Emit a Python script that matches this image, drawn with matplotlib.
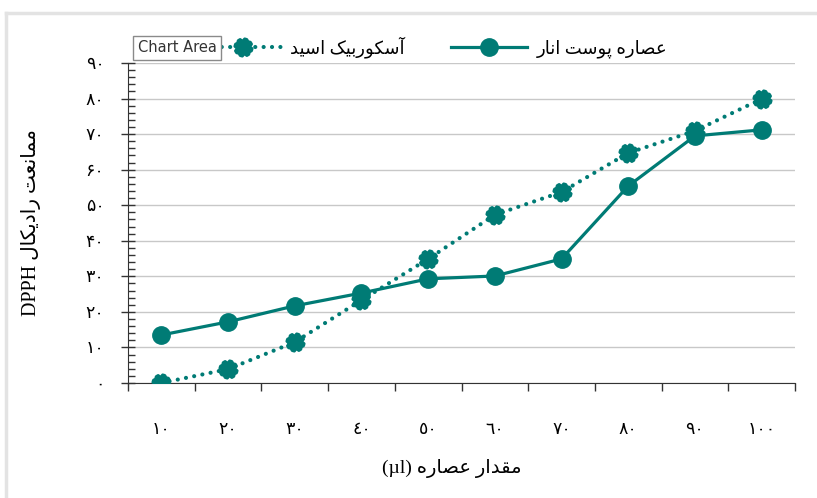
import numpy as np
import matplotlib.pyplot as plt
from matplotlib.path import Path
from matplotlib.ticker import MultipleLocator

# presentation forms: isolated, final, initial, medial (None = right-joining only)
FORMS = {
    'ا': ('\uFE8D', '\uFE8E', None, None),
    'آ': ('\uFE81', '\uFE82', None, None),
    'د': ('\uFEA9', '\uFEAA', None, None),
    'ر': ('\uFEAD', '\uFEAE', None, None),
    'و': ('\uFEED', '\uFEEE', None, None),
    'ب': ('\uFE8F', '\uFE90', '\uFE91', '\uFE92'),
    'پ': ('\uFB56', '\uFB57', '\uFB58', '\uFB59'),
    'ت': ('\uFE95', '\uFE96', '\uFE97', '\uFE98'),
    'س': ('\uFEB1', '\uFEB2', '\uFEB3', '\uFEB4'),
    'ص': ('\uFEB9', '\uFEBA', '\uFEBB', '\uFEBC'),
    'ع': ('\uFEC9', '\uFECA', '\uFECB', '\uFECC'),
    'ق': ('\uFED5', '\uFED6', '\uFED7', '\uFED8'),
    'ک': ('\uFB8E', '\uFB8F', '\uFB90', '\uFB91'),
    'ل': ('\uFEDD', '\uFEDE', '\uFEDF', '\uFEE0'),
    'م': ('\uFEE1', '\uFEE2', '\uFEE3', '\uFEE4'),
    'ن': ('\uFEE5', '\uFEE6', '\uFEE7', '\uFEE8'),
    'ه': ('\uFEE9', '\uFEEA', '\uFEEB', '\uFEEC'),
    'ی': ('\uFBFC', '\uFBFD', '\uFBFE', '\uFBFF'),
}


def fa(s):
    # shape persian letters and put them in visual (left to right) order
    out = []
    for i, c in enumerate(s):
        if c not in FORMS:
            out.append(c)
            continue
        prev = s[i - 1] if i > 0 else ''
        nxt = s[i + 1] if i + 1 < len(s) else ''
        jp = prev in FORMS and FORMS[prev][2] is not None
        jn = FORMS[c][2] is not None and nxt in FORMS
        f = FORMS[c]
        if jp and jn:
            out.append(f[3])
        elif jp:
            out.append(f[1])
        elif jn:
            out.append(f[2])
        else:
            out.append(f[0])
    return ''.join(out)[::-1]


x_labels = ['١٠', '٢٠', '٣٠', '٤٠', '٥٠', '٦٠', '٧٠', '٨٠', '٩٠', '١٠٠']
y_ticks = [0, 10, 20, 30, 40, 50, 60, 70, 80, 90]
y_labels = ['۰', '۱۰', '۲۰', '۳۰', '۴۰', '۵۰', '۶۰', '۷۰', '۸۰', '۹۰']

extract = [13.5, 17.2, 21.7, 25.3, 29.3, 30.1, 34.9, 55.4, 69.5, 71.2]
ascorbic = [0.0, 3.9, 11.5, 23.3, 34.9, 47.3, 53.7, 64.7, 70.9, 79.9]

teal = '#007B75'
ar_font = ['Liberation Serif', 'DejaVu Sans']

# splat marker for the ascorbic acid series
ang = np.linspace(0, 2 * np.pi, 25)[:-1] + np.pi / 24
rad = np.where(np.arange(24) % 3 == 0, 0.72, 1.0)
rad = np.where(np.arange(24) % 6 == 3, 0.85, rad)
verts = np.column_stack([rad * np.cos(ang), rad * np.sin(ang)])
verts = np.vstack([verts, verts[:1]])
splat = Path(verts, closed=True)

fig = plt.figure(figsize=(8.17, 4.98), dpi=100)
ax = fig.add_axes([128 / 817, 1 - 383 / 498, (795 - 128) / 817, (383 - 63) / 498])

xs = np.arange(len(x_labels))
ax.plot(xs, ascorbic, color=teal, lw=3.0, linestyle=(0, (0.01, 2.0)),
        dash_capstyle='round', marker=splat, markersize=12.5,
        markerfacecolor=teal, markeredgecolor=teal, mew=2,
        label=fa('آسکوربیک اسید'), zorder=3)
ax.plot(xs, extract, color=teal, lw=2.3, marker='o', markersize=12.5,
        markerfacecolor=teal, markeredgecolor=teal,
        label=fa('عصاره پوست انار'), zorder=4)

ax.set_xlim(-0.5, len(x_labels) - 0.5)
ax.set_ylim(0, 90)
ax.set_yticks(y_ticks)
ax.set_yticklabels(y_labels, fontsize=12.5, family=ar_font)
ax.yaxis.set_minor_locator(MultipleLocator(2))
ax.set_xticks(xs)
ax.set_xticklabels(x_labels, fontsize=12.5, family=ar_font)
ax.set_xticks(np.arange(len(x_labels) + 1) - 0.5, minor=True)
ax.tick_params(axis='x', which='major', length=0, pad=28)
ax.tick_params(axis='x', which='minor', length=6, width=1, color='#333333')
ax.tick_params(axis='y', which='major', direction='inout', length=10, width=1,
               color='#333333', pad=12)
ax.tick_params(axis='y', which='minor', direction='in', length=5, width=1,
               color='#333333')

ax.grid(axis='y', color='#c8c8c8', lw=1)
ax.set_axisbelow(True)
for side in ['top', 'right']:
    ax.spines[side].set_visible(False)
ax.spines['left'].set_color('#333333')
ax.spines['bottom'].set_color('#333333')

ax.set_ylabel('DPPH ' + fa('ممانعت رادیکال'), fontsize=14.5, family=ar_font)
ax.yaxis.set_label_coords((41 - 128) / (795 - 128), 0.5)
ax.set_xlabel('(µl) ' + fa('مقدار عصاره'), fontsize=14, family=ar_font)
ax.xaxis.set_label_coords((452 - 128) / (795 - 128), -(468 - 383) / (383 - 63))
ax.xaxis.label.set_va('center')

fig.legend(loc='center', bbox_to_anchor=(436 / 817, 1 - 47 / 498), ncol=2,
           frameon=False, prop={'family': ar_font, 'size': 13},
           handlelength=4.2, columnspacing=2.6, handletextpad=0.5)

# chart outer border (only top and left are in frame)
fig.add_artist(plt.Line2D([6 / 817, 6 / 817], [0, 1 - 13 / 498],
                          transform=fig.transFigure, color='#e3e3e3', lw=2.5))
fig.add_artist(plt.Line2D([6 / 817, 1], [1 - 13 / 498, 1 - 13 / 498],
                          transform=fig.transFigure, color='#e3e3e3', lw=2.5))

fig.text(177 / 817, 1 - 48 / 498, 'Chart Area', fontsize=10.5, color='#333333',
         ha='center', va='center', zorder=10,
         bbox=dict(boxstyle='square,pad=0.32', facecolor='white',
                   edgecolor='#8a8a8a', lw=1))

fig.savefig('out.png', dpi=100)
